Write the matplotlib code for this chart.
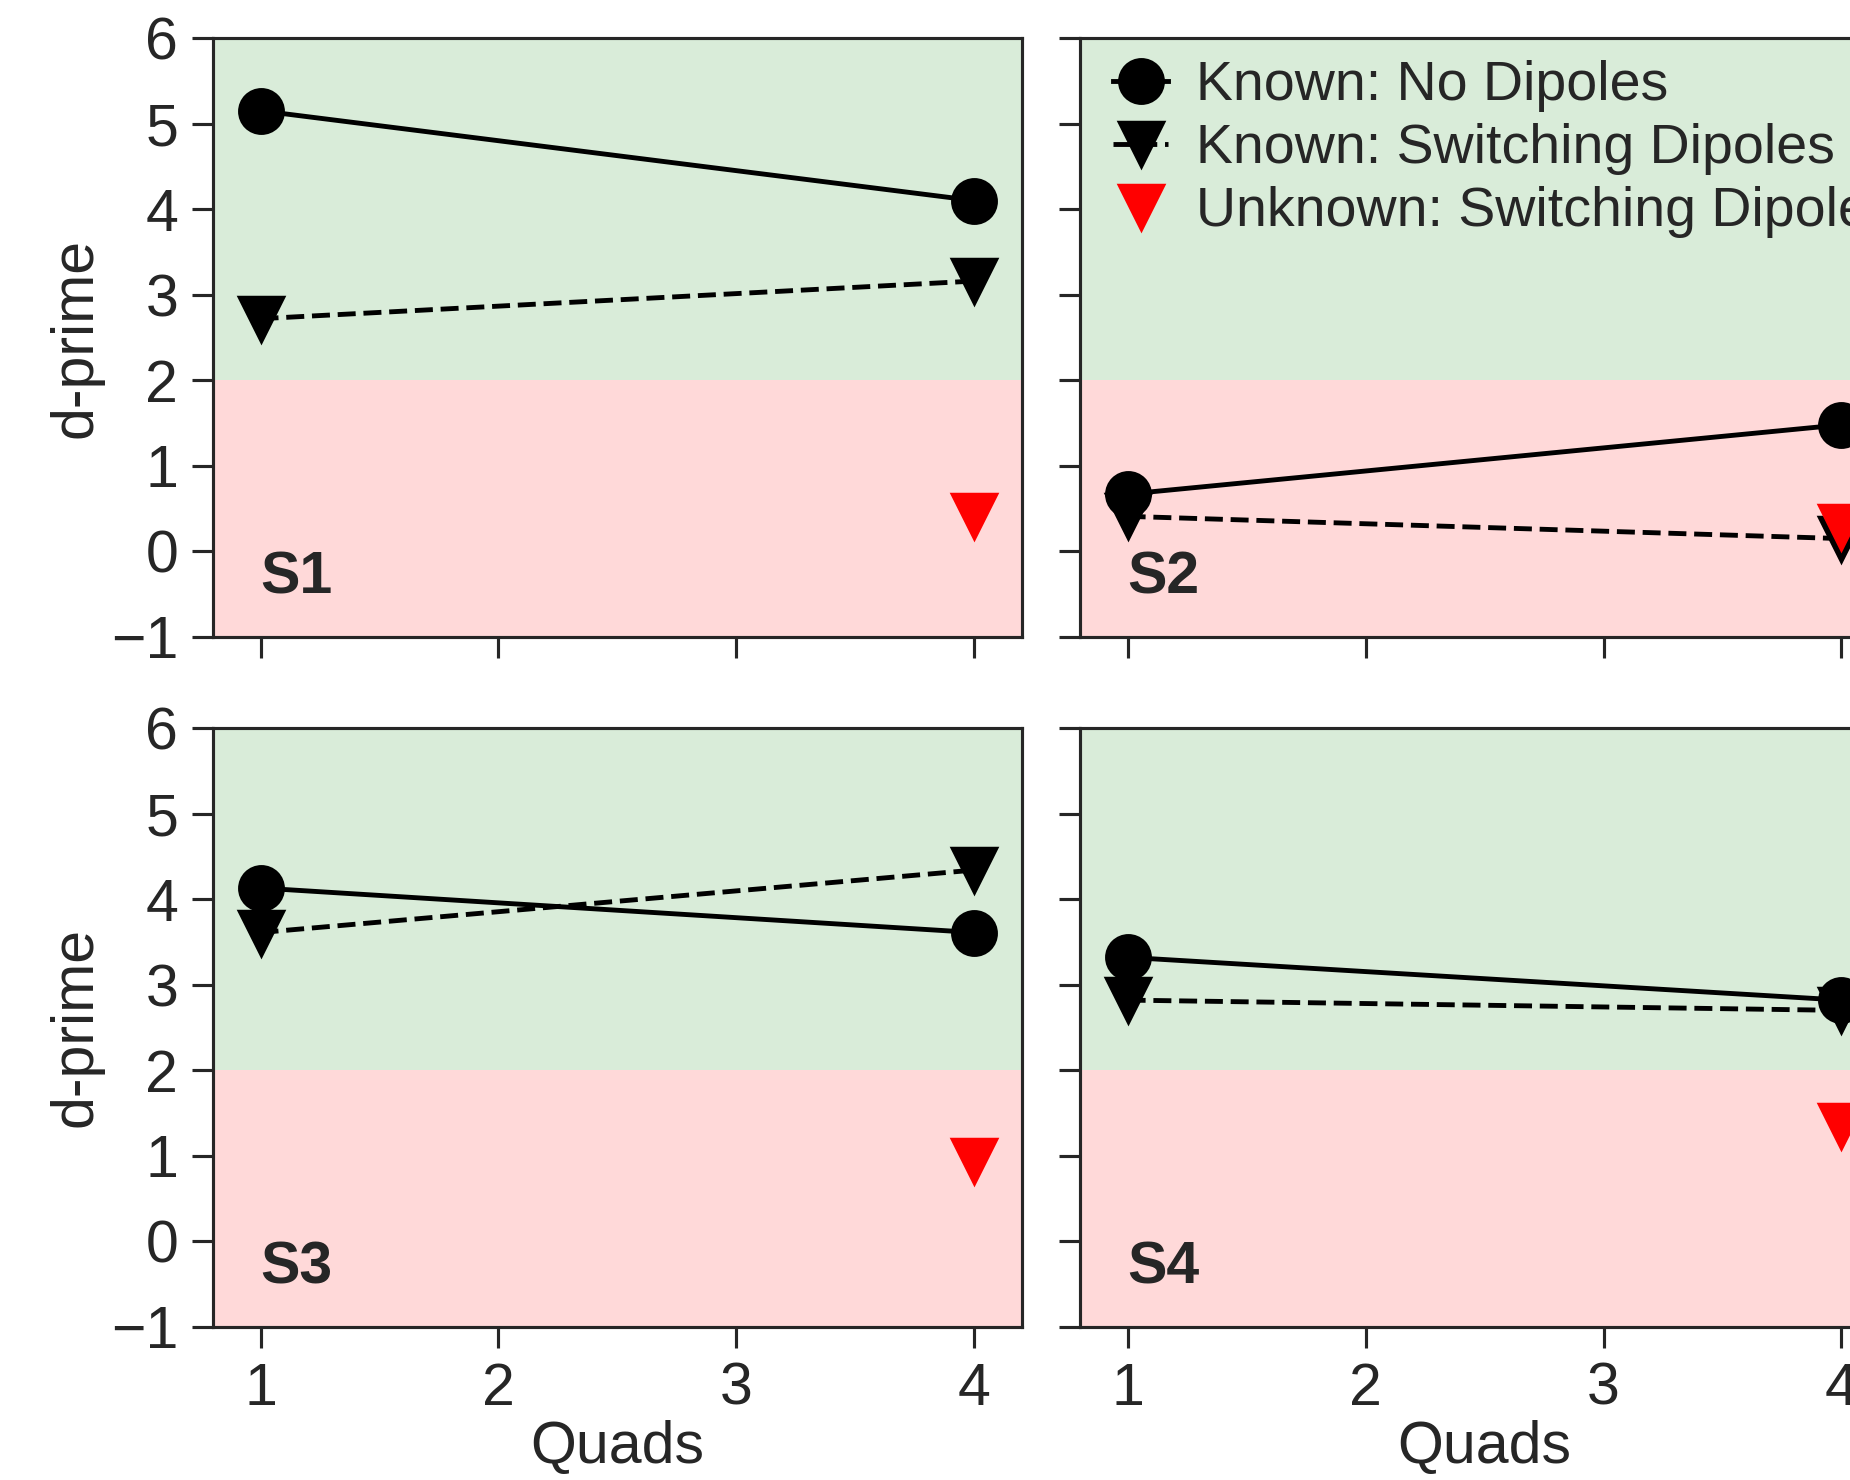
import numpy as np
import matplotlib
matplotlib.use("Agg")
import matplotlib.pyplot as plt
from matplotlib.lines import Line2D

plt.rcParams['font.family'] = ['Liberation Sans', 'DejaVu Sans']
plt.rcParams['font.size'] = 17
plt.rcParams['axes.edgecolor'] = '#262626'
plt.rcParams['axes.linewidth'] = 0.9
plt.rcParams['xtick.color'] = '#262626'
plt.rcParams['ytick.color'] = '#262626'
plt.rcParams['text.color'] = '#262626'
plt.rcParams['axes.labelcolor'] = '#262626'
plt.rcParams['xtick.major.size'] = 6
plt.rcParams['ytick.major.size'] = 6
plt.rcParams['xtick.major.width'] = 0.9
plt.rcParams['ytick.major.width'] = 0.9

subjects = ['S1', 'S2', 'S3', 'S4']
quads = [1, 4]
known_no_dipoles = [[5.15, 4.10], [0.67, 1.48], [4.13, 3.61], [3.32, 2.82]]
known_switching = [[2.72, 3.16], [0.41, 0.15], [3.61, 4.34], [2.82, 2.70]]
unknown_switching = [0.41, 0.28, 0.94, 1.35]

MS = 12.5
LW = 1.4

fig = plt.figure(figsize=(7.4, 5.92), dpi=250)

# panel boxes in figure fractions; the right column runs past the edge
lefts = [0.1151, 0.5838]
bottoms = [0.5696, 0.1034]
w, h = 0.4373, 0.4047

axes = []
for i in range(4):
    r, c = divmod(i, 2)
    ax = fig.add_axes([lefts[c], bottoms[r], w, h])
    axes.append(ax)

for i, ax in enumerate(axes):
    r, c = divmod(i, 2)
    ax.axhspan(2, 6, color='green', alpha=0.15, lw=0)
    ax.axhspan(-1, 2, color='red', alpha=0.15, lw=0)
    ax.plot(quads, known_no_dipoles[i], color='black', marker='o', ms=MS,
            lw=LW, ls='-', label='Known: No Dipoles')
    ax.plot(quads, known_switching[i], color='black', marker='v', ms=MS,
            lw=LW, ls='--', label='Known: Switching Dipoles')
    ax.plot([4], [unknown_switching[i]], color='red', marker='v', ms=MS,
            ls='none', label='Unknown: Switching Dipoles')
    ax.text(1.0, -0.63, subjects[i], fontweight='bold', ha='left', va='bottom')

    ax.set_xlim(0.8, 4.2)
    ax.set_ylim(-1, 6)
    ax.set_xticks([1, 2, 3, 4])
    ax.set_yticks(range(-1, 7))
    ax.tick_params(direction='out', pad=4)
    if r == 0:
        ax.set_xticklabels([])
    else:
        ax.set_xlabel('Quads', labelpad=1)
    if c == 1:
        ax.set_yticklabels([])
    else:
        ax.set_ylabel('d-prime', labelpad=2)

handles = [
    Line2D([], [], color='black', marker='o', ms=MS, lw=LW, ls='-'),
    Line2D([], [], color='black', marker='v', ms=MS, lw=LW, ls='--'),
    Line2D([], [], color='red', marker='v', ms=MS, ls='none'),
]
labels = ['Known: No Dipoles', 'Known: Switching Dipoles', 'Unknown: Switching Dipoles']
axes[1].legend(handles, labels, loc='upper left', frameon=False,
               bbox_to_anchor=(0.013, 1.0),
               handlelength=1.0, handletextpad=0.5, labelspacing=0.2,
               borderaxespad=0.0, fontsize=16)

fig.savefig('out.png', dpi=250)
